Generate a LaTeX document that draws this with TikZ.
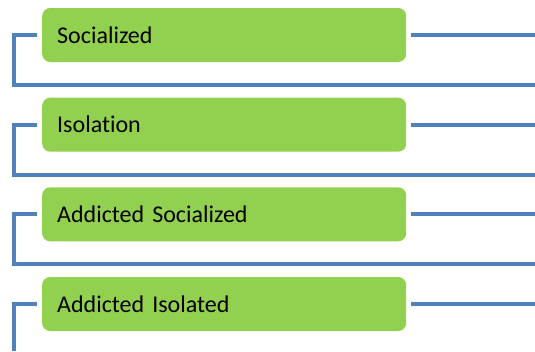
\documentclass[tikz,border=0pt]{standalone}
\usepackage{fontspec}
\setmainfont[Ligatures=NoCommon]{Carlito}
\definecolor{boxgreen}{HTML}{92D050}
\definecolor{lineblue}{HTML}{4F81BD}
\begin{document}
\begin{tikzpicture}[x=1pt,y=-1pt,
  itembox/.style={rectangle, rounded corners=8pt, fill=boxgreen, draw=none,
    minimum width=364pt, minimum height=54pt, text width=334pt, inner xsep=15pt,
    align=left, anchor=west, font=\fontsize{24pt}{28pt}\selectfont},
  conn/.style={draw=lineblue, line width=4pt}]
\useasboundingbox (0,0) rectangle (535,351);
\node[itembox] (b1) at (42,35) {Socialized};
\node[itembox] (b2) at (42,124.7) {Isolation};
\node[itembox] (b3) at (42,214.3) {Addicted Socialized};
\node[itembox] (b4) at (42,304) {Addicted Isolated};
% right end coordinates
\coordinate (r1) at (535,35);
\coordinate (r2) at (535,124.7);
\coordinate (r3) at (535,214.3);
\coordinate (r4) at (535,304);
\coordinate (d1) at (535,85);
\coordinate (d2) at (535,174.7);
\coordinate (d3) at (535,264.3);
\coordinate (d4) at (13.5,351);
\foreach \i in {1,2,3,4}{
  \draw[conn] ([xshift=5pt]b\i.east) -- (r\i);
}
\foreach \i in {1,2,3}{
  \draw[conn] ([xshift=-5pt]b\i.west) -- (13.5,0 |- b\i.west) |- (d\i);
}
\draw[conn] ([xshift=-5pt]b4.west) -| (d4);
\end{tikzpicture}
\end{document}
